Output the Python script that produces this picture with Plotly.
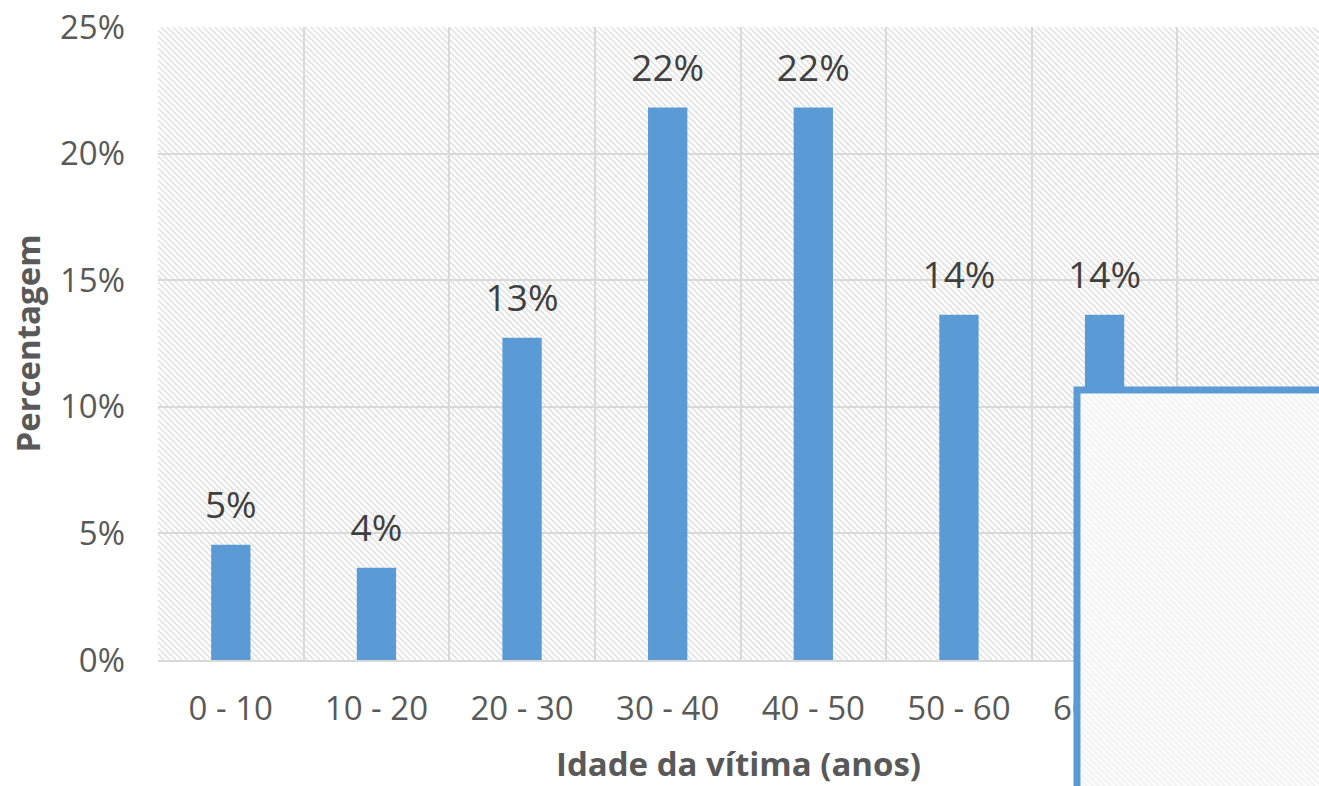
import plotly.graph_objects as go

categories = ["0 - 10", "10 - 20", "20 - 30", "30 - 40", "40 - 50", "50 - 60", "60 - 70", "70 - 80"]
percentages = [0.0455, 0.0364, 0.1273, 0.2182, 0.2182, 0.1364, 0.1364, 0.0818]
y_ticks = [0, 0.05, 0.10, 0.15, 0.20, 0.25]
y_ticklabels = ["0%", "5%", "10%", "15%", "20%", "25%"]

FIG_W, FIG_H = 1319, 786
ML, MR, MT, MB = 158, 0, 27, 126
PW, PH = FIG_W - ML - MR, FIG_H - MT - MB
FONT = "Open Sans"
BLUE = "#5B9BD5"
GRID = "#d9d9d9"
TXT = "#595959"


def hatch_path(x0, y0, x1, y1, step):
    """Diagonal '\\' hatch clipped to a box given in page pixels, returned in paper coords."""
    parts = []
    w, h = x1 - x0, y1 - y0
    c = -h
    while c < w:
        sx = max(c, 0)
        ex = min(c + h, w)
        if ex > sx:
            sy, ey = sx - c, ex - c
            px1, py1 = x0 + sx, y0 + sy
            px2, py2 = x0 + ex, y0 + ey
            parts.append("M %.5f %.5f L %.5f %.5f" % (
                (px1 - ML) / PW, 1 - (py1 - MT) / PH,
                (px2 - ML) / PW, 1 - (py2 - MT) / PH))
        c += step
    return " ".join(parts)


def px_x(p):
    return (p - ML) / PW


def px_y(p):
    return 1 - (p - MT) / PH


fig = go.Figure()
fig.add_trace(go.Bar(
    x=categories, y=percentages, width=0.27,
    marker=dict(color=BLUE, line=dict(width=0)),
    hoverinfo="skip", showlegend=False,
))
fig.add_trace(go.Scatter(
    x=categories, y=percentages, mode="markers+text",
    text=["%d%%" % round(v * 100) for v in percentages],
    textposition="top center",
    textfont=dict(family=FONT, size=37, color="#404040"),
    marker=dict(size=26, color="rgba(0,0,0,0)", line=dict(width=0)),
    hoverinfo="skip", showlegend=False, cliponaxis=False,
))

shapes = [
    dict(type="path", xref="paper", yref="paper", layer="below",
         path=hatch_path(158, 27, 1319, 660, 6),
         line=dict(color="#e2e2e2", width=1.6)),
    # overlay box at bottom right
    dict(type="rect", xref="paper", yref="paper", layer="above",
         x0=px_x(1077), x1=px_x(1330), y0=px_y(800), y1=px_y(390),
         fillcolor="#fcfcfc", line=dict(color=BLUE, width=7)),
    dict(type="path", xref="paper", yref="paper", layer="above",
         path=hatch_path(1081, 394, 1319, 786, 6),
         line=dict(color="#f1f1f1", width=1.6)),
]

fig.update_layout(
    width=FIG_W, height=FIG_H,
    margin=dict(l=ML, r=MR, t=MT, b=MB, pad=0),
    paper_bgcolor="white", plot_bgcolor="rgba(0,0,0,0)",
    shapes=shapes,
    font=dict(family=FONT, color=TXT),
    bargap=0.73,
)
fig.update_xaxes(
    type="category", range=[-0.5, 7.5 - 4 / 145.6],
    tickson="boundaries", showgrid=True, gridcolor=GRID, gridwidth=2,
    showline=True, linecolor=GRID, linewidth=2,
    ticks="", ticklabelstandoff=18,
    tickfont=dict(family=FONT, size=33, color=TXT),
    title=dict(text="<b>Idade da vítima (anos)</b>", standoff=30,
               font=dict(family=FONT, size=33, color=TXT)),
    zeroline=False, fixedrange=True,
)
fig.update_yaxes(
    range=[0, 0.25], tickvals=y_ticks, ticktext=y_ticklabels,
    showgrid=True, gridcolor=GRID, gridwidth=2,
    showline=False, ticks="", ticklabelstandoff=32,
    tickfont=dict(family=FONT, size=33, color=TXT),
    title=dict(text="<b>Percentagem</b>", standoff=9,
               font=dict(family=FONT, size=33, color=TXT)),
    zeroline=False, fixedrange=True,
)

fig.write_html(
    "out.html",
    config={"displayModeBar": False},
    post_script="document.body.style.margin='0';document.body.style.overflow='hidden';",
)
